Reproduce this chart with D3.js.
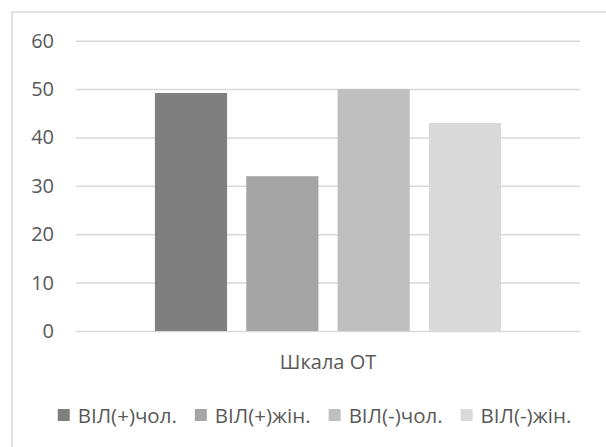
<!DOCTYPE html>
<html>
<head>
<meta charset="utf-8">
<script src="https://cdn.jsdelivr.net/npm/d3@7"></script>
<style>
  html, body { margin: 0; padding: 0; background: #ffffff; }
  svg { display: block; font-family: "Open Sans", "Noto Sans", sans-serif; }
</style>
</head>
<body>
<svg id="chart" width="606" height="447"></svg>
<script>
// Category and series
const categories = ["Шкала ОТ"];
const seriesNames = ["ВІЛ(+)чол.", "ВІЛ(+)жін.", "ВІЛ(-)чол.", "ВІЛ(-)жін."];
const seriesValues = [49.2, 32, 50, 43];
const seriesColors = ["#7f7f7f", "#a5a5a5", "#bfbfbf", "#d9d9d9"];
const yTicks = [0, 10, 20, 30, 40, 50, 60];

const frame = { x: 12, y: 12, w: 605, h: 450 };
const plot = { left: 76, right: 580, top: 40.7, bottom: 331 };
const textColor = "#595959";
const gridColor = "#d9d9d9";
const fontSize = 20;
const legendFontSize = 20.5;

const svg = d3.select("#chart");

// Chart frame
svg.append("rect")
  .attr("x", frame.x).attr("y", frame.y)
  .attr("width", frame.w).attr("height", frame.h)
  .attr("fill", "#ffffff")
  .attr("stroke", gridColor)
  .attr("stroke-width", 1.5);

const y = d3.scaleLinear()
  .domain([0, 60])
  .range([plot.bottom, plot.top]);

const x0 = d3.scaleBand()
  .domain(categories)
  .range([plot.left, plot.right])
  .paddingInner(0)
  .paddingOuter(0.228);

const x1 = d3.scaleBand()
  .domain(seriesNames)
  .range([0, x0.bandwidth()])
  .paddingInner(0.21)
  .paddingOuter(0);

// Gridlines and value labels
const yAxis = d3.axisLeft(y)
  .tickValues(yTicks)
  .tickSize(-(plot.right - plot.left))
  .tickPadding(plot.left - 54)
  .tickFormat(d3.format("d"));

const gy = svg.append("g")
  .attr("transform", `translate(${plot.left},0)`)
  .call(yAxis);
gy.select(".domain").remove();
gy.selectAll(".tick line")
  .attr("stroke", gridColor)
  .attr("stroke-width", 1.5);
gy.selectAll(".tick text")
  .attr("fill", textColor)
  .style("font-size", fontSize + "px")
  .style("font-family", "\"Open Sans\", sans-serif");

// Bars
const groups = svg.append("g")
  .selectAll("g")
  .data(categories)
  .join("g")
  .attr("transform", d => `translate(${x0(d)},0)`);

groups.selectAll("rect")
  .data(() => seriesNames.map((name, i) => ({ name, value: seriesValues[i], color: seriesColors[i] })))
  .join("rect")
  .attr("x", d => x1(d.name))
  .attr("y", d => y(d.value))
  .attr("width", x1.bandwidth())
  .attr("height", d => y(0) - y(d.value))
  .attr("fill", d => d.color);

// Category axis label
const xAxis = d3.axisBottom(x0).tickSize(0).tickPadding(0);
const gx = svg.append("g")
  .attr("transform", `translate(0,${plot.bottom})`)
  .call(xAxis);
gx.select(".domain").remove();
gx.selectAll(".tick text")
  .attr("fill", textColor)
  .attr("dy", null)
  .attr("y", 38)
  .style("font-size", fontSize + "px")
  .style("font-family", "\"Open Sans\", sans-serif");

// Legend, centred under the frame
const legend = svg.append("g").attr("class", "legend");
const swatch = 12, swatchGap = 8, itemGap = 18, legendBaseline = 423;
let cursor = 0;
seriesNames.forEach((name, i) => {
  const g = legend.append("g");
  g.append("rect")
    .attr("x", 0).attr("y", legendBaseline - 14)
    .attr("width", swatch).attr("height", swatch)
    .attr("fill", seriesColors[i]);
  const t = g.append("text")
    .attr("x", swatch + swatchGap)
    .attr("y", legendBaseline)
    .attr("fill", textColor)
    .style("font-size", legendFontSize + "px")
    .text(name);
  const w = swatch + swatchGap + t.node().getComputedTextLength();
  g.attr("transform", `translate(${cursor},0)`);
  cursor += w + itemGap;
});
const legendWidth = cursor - itemGap;
legend.attr("transform", `translate(${frame.x + frame.w / 2 - legendWidth / 2},0)`);
</script>
</body>
</html>
